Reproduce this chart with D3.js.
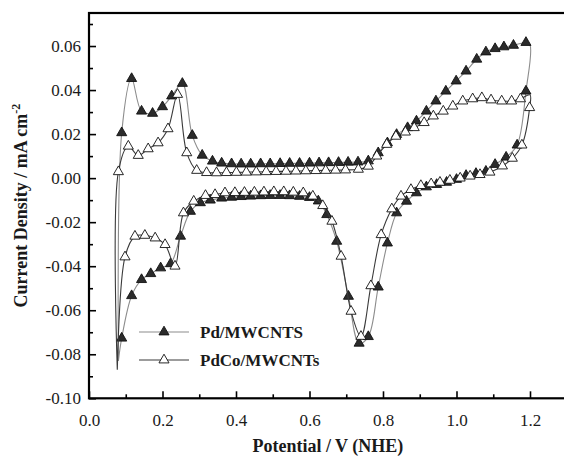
<!DOCTYPE html>
<html>
<head>
<meta charset="utf-8">
<script src="https://cdn.jsdelivr.net/npm/d3@7"></script>
<style>
  body { margin: 0; background: #fff; }
  svg text { font-family: "Liberation Serif", "Times New Roman", serif; fill: #1a1a1a; }
  .tick-label { font-size: 17px; }
  .axis-title { font-size: 18px; font-weight: bold; }
  .legend-text { font-size: 17px; font-weight: bold; }
</style>
</head>
<body>
<div id="chart-area"></div>
<script>
// Pd/MWCNTS, one full cycle (anodic then cathodic)
const pdPotential = [0.080, 0.089, 0.116, 0.143, 0.173, 0.200, 0.225, 0.254, 0.281, 0.308, 0.336, 0.361, 0.388, 0.414, 0.440, 0.467, 0.493, 0.520, 0.546, 0.573, 0.600, 0.626, 0.652, 0.679, 0.705, 0.732, 0.760, 0.787, 0.812, 0.837, 0.867, 0.891, 0.918, 0.944, 0.971, 0.999, 1.026, 1.055, 1.080, 1.105, 1.129, 1.155, 1.189, 1.200,
    1.189, 1.165, 1.135, 1.105, 1.080, 1.053, 1.026, 1.000, 0.973, 0.946, 0.918, 0.891, 0.864, 0.837, 0.812, 0.787, 0.760, 0.735, 0.706, 0.674, 0.647, 0.624, 0.600, 0.573, 0.546, 0.520, 0.493, 0.467, 0.440, 0.414, 0.388, 0.361, 0.330, 0.303, 0.276, 0.249, 0.222, 0.195, 0.168, 0.143, 0.116, 0.089, 0.080];
const pdCurrent = [-0.083, 0.0206, 0.0452, 0.0304, 0.0294, 0.0324, 0.0373, 0.0430, 0.0194, 0.0104, 0.0077, 0.0068, 0.0065, 0.0064, 0.0064, 0.0065, 0.0065, 0.0066, 0.0067, 0.0067, 0.0068, 0.0069, 0.0070, 0.0071, 0.0072, 0.0073, 0.0078, 0.0115, 0.0160, 0.0198, 0.0229, 0.0259, 0.0304, 0.0350, 0.0395, 0.0441, 0.0486, 0.0540, 0.0573, 0.0588, 0.0596, 0.0603, 0.0616, 0.0605,
    0.0395, 0.0150, 0.0095, 0.0062, 0.0031, 0.0021, 0.0012, -0.0006, -0.0019, -0.0029, -0.0040, -0.0067, -0.0105, -0.0158, -0.0295, -0.0495, -0.0720, -0.0750, -0.0537, -0.0287, -0.0166, -0.0104, -0.0088, -0.0083, -0.0080, -0.0079, -0.0079, -0.0080, -0.0082, -0.0084, -0.0087, -0.0091, -0.0100, -0.0112, -0.0151, -0.0264, -0.0389, -0.0408, -0.0434, -0.0461, -0.0534, -0.0727, -0.083];

// PdCo/MWCNTs, one full cycle
const pdcoPotential = [0.077, 0.080, 0.107, 0.134, 0.161, 0.188, 0.215, 0.241, 0.266, 0.293, 0.320, 0.347, 0.374, 0.401, 0.428, 0.455, 0.482, 0.509, 0.536, 0.563, 0.590, 0.617, 0.644, 0.671, 0.698, 0.733, 0.760, 0.783, 0.810, 0.835, 0.861, 0.885, 0.912, 0.937, 0.964, 0.990, 1.017, 1.044, 1.069, 1.094, 1.123, 1.150, 1.174, 1.200,
    1.199, 1.178, 1.152, 1.125, 1.091, 1.064, 1.037, 1.010, 0.982, 0.955, 0.931, 0.903, 0.876, 0.849, 0.824, 0.795, 0.767, 0.740, 0.713, 0.686, 0.661, 0.636, 0.609, 0.583, 0.556, 0.530, 0.503, 0.476, 0.450, 0.423, 0.397, 0.370, 0.343, 0.317, 0.285, 0.257, 0.234, 0.207, 0.180, 0.152, 0.125, 0.098, 0.077];
const pdcoCurrent = [-0.087, 0.0029, 0.0145, 0.0103, 0.0133, 0.0160, 0.0224, 0.0380, 0.0115, 0.0035, 0.0025, 0.0024, 0.0025, 0.0026, 0.0027, 0.0028, 0.0029, 0.0030, 0.0031, 0.0032, 0.0033, 0.0034, 0.0035, 0.0036, 0.0037, 0.0040, 0.0054, 0.0100, 0.0153, 0.0190, 0.0209, 0.0229, 0.0252, 0.0282, 0.0304, 0.0327, 0.0350, 0.0360, 0.0365, 0.0355, 0.0350, 0.0350, 0.0360, 0.0378,
    0.0320, 0.0150, 0.0090, 0.0055, 0.0027, 0.0016, 0.0009, 0.0000, -0.0010, -0.0019, -0.0026, -0.0034, -0.0052, -0.0082, -0.0140, -0.0257, -0.0489, -0.0719, -0.0605, -0.0355, -0.0196, -0.0125, -0.0082, -0.0067, -0.0064, -0.0062, -0.0062, -0.0063, -0.0064, -0.0065, -0.0066, -0.0067, -0.0075, -0.0079, -0.0105, -0.0158, -0.0400, -0.0302, -0.0272, -0.0260, -0.0264, -0.0358, -0.087];

const seriesNames = ["Pd/MWCNTS", "PdCo/MWCNTs"];
const xTickValues = [0.0, 0.2, 0.4, 0.6, 0.8, 1.0, 1.2];
const yTickValues = [-0.10, -0.08, -0.06, -0.04, -0.02, 0.00, 0.02, 0.04, 0.06];

const series = [
    { name: seriesNames[0], potential: pdPotential, current: pdCurrent, line: "#8c8c8c", fill: "#2b2b2b" },
    { name: seriesNames[1], potential: pdcoPotential, current: pdcoCurrent, line: "#3a3a3a", fill: "#ffffff" }
];

function drawChart() {
    const width = 564, height = 460;
    const left = 89, right = 566.75, top = 13, bottom = 398.3;

    const svg = d3.select('#chart-area').append('svg')
        .attr('width', width)
        .attr('height', height);

    const x = d3.scaleLinear().domain([0, 1.3]).range([left, right]);
    const y = d3.scaleLinear().domain([-0.10, 0.075]).range([bottom, top]);

    // minor ticks
    svg.append('g')
        .attr('transform', `translate(0,${bottom})`)
        .call(d3.axisBottom(x).tickValues(d3.range(1, 13, 2).map(d => d / 10)).tickSize(-4).tickFormat(''))
        .call(g => g.select('.domain').remove())
        .selectAll('line').attr('stroke', '#000').attr('stroke-width', 1.6);
    svg.append('g')
        .attr('transform', `translate(${left},0)`)
        .call(d3.axisLeft(y).tickValues(d3.range(-9, 8, 2).map(d => d / 100)).tickSize(-4).tickFormat(''))
        .call(g => g.select('.domain').remove())
        .selectAll('line').attr('stroke', '#000').attr('stroke-width', 1.6);

    // major ticks with labels
    const xAxis = svg.append('g')
        .attr('transform', `translate(0,${bottom})`)
        .call(d3.axisBottom(x).tickValues(xTickValues).tickSize(-7).tickPadding(16).tickFormat(d => d.toFixed(1)));
    xAxis.select('.domain').remove();
    xAxis.selectAll('line').attr('stroke', '#000').attr('stroke-width', 1.6);
    xAxis.selectAll('text').attr('class', 'tick-label').attr('fill', '#1a1a1a');

    const yAxis = svg.append('g')
        .attr('transform', `translate(${left},0)`)
        .call(d3.axisLeft(y).tickValues(yTickValues).tickSize(-7).tickPadding(8).tickFormat(d => d.toFixed(2)));
    yAxis.select('.domain').remove();
    yAxis.selectAll('line').attr('stroke', '#000').attr('stroke-width', 1.6);
    yAxis.selectAll('text').attr('class', 'tick-label').attr('fill', '#1a1a1a');

    // frame
    svg.append('rect')
        .attr('x', left).attr('y', top)
        .attr('width', right - left).attr('height', bottom - top)
        .attr('fill', 'none').attr('stroke', '#000').attr('stroke-width', 2.2);

    const line = d3.line()
        .x(d => x(d[0]))
        .y(d => y(d[1]))
        .curve(d3.curveCatmullRom.alpha(0.5));

    const tri = d3.symbol().type(d3.symbolTriangle).size(44);

    series.forEach(s => {
        const pts = s.potential.map((v, i) => [v, s.current[i]]);
        const vMin = d3.min(s.potential), vMax = d3.max(s.potential);

        svg.append('path')
            .datum(pts)
            .attr('d', line)
            .attr('fill', 'none')
            .attr('stroke', s.line)
            .attr('stroke-width', 1.1);

        // turning points of the sweep carry no marker
        svg.selectAll(null)
            .data(pts.filter(p => p[0] !== vMin && p[0] !== vMax))
            .enter().append('path')
            .attr('d', tri)
            .attr('transform', d => `translate(${x(d[0])},${y(d[1])})`)
            .attr('fill', s.fill)
            .attr('stroke', '#111')
            .attr('stroke-width', 0.9);
    });

    // legend
    series.forEach((s, i) => {
        const ly = 332 + i * 28;
        svg.append('line')
            .attr('x1', 139).attr('x2', 189)
            .attr('y1', ly).attr('y2', ly)
            .attr('stroke', s.line).attr('stroke-width', 1.1);
        svg.append('path')
            .attr('d', tri)
            .attr('transform', `translate(164,${ly})`)
            .attr('fill', s.fill)
            .attr('stroke', '#111')
            .attr('stroke-width', 0.9);
        svg.append('text')
            .attr('class', 'legend-text')
            .attr('x', 200).attr('y', ly + 6)
            .text(s.name);
    });

    // axis titles
    svg.append('text')
        .attr('class', 'axis-title')
        .attr('x', (left + right) / 2)
        .attr('y', 452)
        .attr('text-anchor', 'middle')
        .text('Potential / V (NHE)');

    const yt = svg.append('text')
        .attr('class', 'axis-title')
        .attr('transform', `translate(27,${(top + bottom) / 2}) rotate(-90)`)
        .attr('text-anchor', 'middle');
    yt.append('tspan').text('Current Density / mA cm');
    yt.append('tspan').attr('dy', -7).style('font-size', '12px').text('-2');
}

drawChart();
</script>
</body>
</html>
